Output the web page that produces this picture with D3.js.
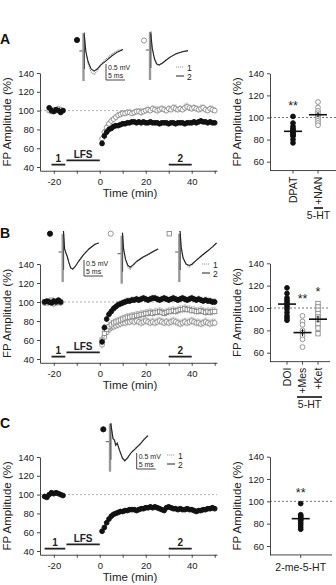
<!DOCTYPE html>
<html lang="en">
<head>
<meta charset="utf-8">
<title>FP amplitude after LFS</title>
<script src="https://cdn.jsdelivr.net/npm/d3@7"></script>
<style>
body { margin: 0; background: #fff; }
svg { font-family: "Liberation Sans", Arial, sans-serif; }
.tick text { font-size: 9.5px; fill: #222; }
.domain, .tick line { stroke: #333; stroke-width: 0.9; }
</style>
</head>
<body>
<svg width="336" height="585"></svg>
<script>
// ---- ticks
var timeTickVals = [-20, -10, 0, 10, 20, 30, 40, 50];
var timeTickLabels = [-20, 0, 20, 40];
var ampTicks = [40, 60, 80, 100, 120, 140];
var ampTicksScatter = [60, 80, 100, 120, 140];

// ---- protocol periods (min)
var periodsAB = [[-21, -15], [-14.5, 0], [30, 40]];
var periodsC = [[-24, -15], [-14.5, 0], [30, 40]];
var periodLabels = ["1", "LFS", "2"];

// ---- time course, % of baseline
var postTimes = d3.range(1, 51);
var baseTimesA = [-22, -21, -20, -19, -18, -17, -16];
var baseTimesB = [-24, -23, -22, -21, -20, -19, -18, -17];
var baseTimesC = [-24, -23, -22, -21, -20, -19, -18, -17, -16];

var baseA_dpat = [103, 100, 99, 101, 100, 98, 100];
var baseA_nan = [100, 99, 101, 100, 102, 101, 100];
var postA_dpat = [65,73,77,80,81,83,84,84,85,86, 86,87,87,88,88,87,88,87,88,87, 87,88,87,87,87,86,87,87,87,86, 87,87,86,87,87,87,86,87,87,87, 88,87,88,89,88,88,87,88,87,87];
var postA_nan = [70,77,82,86,89,91,93,95,96,97, 97,98,98,97,98,99,99,98,99,100, 101,100,102,101,100,101,102,101,100,102, 101,103,102,101,102,101,103,104,103,102, 103,102,101,102,103,101,100,102,101,100];
var semA_dpat = [3,3,2,2,2,2,2,2,2,2, 2,2,2,2,2,2,2,2,2,2, 2,2,2,2,2,2,2,2,2,2, 2,2,2,2,2,2,2,2,2,2, 2,2,2,2,2,2,2,2,2,2];
var semA_nan = [3,3,3,3,3,3,3,3,3,3, 3,3,3,3,3,3,3,4,3,3, 3,3,3,3,4,3,3,3,3,3, 3,3,4,3,3,3,4,4,3,3, 3,3,3,4,3,3,3,3,4,3];

var baseB_doi = [100, 101, 100, 99, 101, 100, 102, 100];
var baseB_mes = [99, 100, 101, 100, 98, 101, 100, 99];
var baseB_ket = [100, 99, 100, 102, 100, 99, 101, 100];
var postB_doi = [58,73,82,87,90,93,95,97,98,99, 100,101,101,102,102,103,102,103,104,103, 102,103,104,104,103,102,103,104,103,102, 103,104,103,102,103,104,103,102,103,104, 103,102,103,102,101,102,101,101,100,100];
var postB_mes = [55,63,68,71,73,74,75,76,77,78, 78,79,79,80,79,80,79,78,79,80, 79,78,79,78,79,80,79,78,79,78, 79,80,79,78,77,78,79,78,79,80, 79,78,78,77,78,79,78,77,78,78];
var postB_ket = [60,67,71,74,76,78,79,80,81,82, 83,84,84,85,85,86,86,87,87,88, 88,89,88,89,89,90,89,88,89,90, 90,91,90,91,92,92,93,92,92,91, 91,90,90,91,90,89,90,89,90,90];
var semB_doi = [3,3,3,3,3,3,3,3,3,3, 3,3,3,3,3,3,3,3,3,3, 3,3,3,3,3,3,3,3,3,3, 3,3,3,3,3,3,3,3,3,3, 3,3,3,3,3,3,3,3,3,3];
var semB_mes = [4,4,4,4,4,4,4,4,4,4, 4,4,4,4,4,4,4,4,4,4, 4,4,4,4,4,4,4,4,4,4, 4,4,4,4,4,4,4,4,4,4, 4,4,4,4,4,4,4,4,4,4];
var semB_ket = [4,4,4,4,4,4,4,4,4,4, 4,4,4,4,4,4,4,4,4,4, 4,4,4,4,4,4,4,4,4,4, 4,4,4,4,4,4,4,4,4,4, 4,4,4,4,4,4,4,4,4,4];

var baseC = [98, 97, 100, 102, 101, 102, 101, 100, 99];
var postC = [61,65,70,74,77,79,80,81,82,82, 83,83,84,84,84,83,84,85,85,86, 86,87,86,87,86,85,84,83,86,87, 86,85,85,84,85,84,84,85,84,84, 83,82,83,83,84,84,85,85,86,85];
var semC = [2,2,2,2,2,2,2,2,2,2, 2,2,2,2,2,2,2,2,2,2, 2,2,2,2,2,2,2,2,2,2, 2,2,2,2,2,2,2,2,2,2, 2,2,2,2,2,2,2,2,2,2];

// ---- individual slices, % of baseline at 30-40 min
var catsA = ["DPAT", "+NAN"];
var ptsA_dpat = [101, 95, 92, 90, 89, 88, 87, 86, 85, 84, 83, 80, 77];
var ptsA_nan = [114, 109, 106, 104, 102, 101, 99, 97, 95, 93];
var meanA = [87.5, 102.5];
var semScatA = [2, 2.2];
var starsA = ["**", ""];

var catsB = ["DOI", "+Mes", "+Ket"];
var ptsB_doi = [118, 113, 109, 107, 105, 103, 101, 99, 96, 93, 91, 89];
var ptsB_mes = [93, 88, 85, 80, 78, 75, 72, 65];
var ptsB_ket = [104, 101, 98, 95, 92, 90, 86, 82, 77];
var meanB = [103.5, 78, 90];
var semScatB = [2.5, 3, 3];
var starsB = ["", "**", "*"];

var catsC = ["2-me-5-HT"];
var ptsC = [98, 88, 87, 86, 85, 84, 83, 81, 79, 77, 75];
var meanC = [84.5];
var semScatC = [2];
var starsC = ["**"];

// ---- example field potentials [ms, mV]
var trA1_1 = [[0.2,0.55],[0.6,0.0],[1.2,-0.42],[2.0,-0.7],[2.8,-0.78],[3.6,-0.66],[4.6,-0.44],[6,-0.26],[7.5,-0.1],[9,0.02],[10.4,0.06]];
var trA1_2 = [[0.2,0.55],[0.6,0.0],[1.2,-0.35],[2.0,-0.6],[2.8,-0.67],[3.6,-0.6],[4.6,-0.46],[6,-0.32],[7.5,-0.16],[9,-0.03],[10.4,0.05]];
var trA2_1 = [[0.2,0.55],[0.6,0.05],[1.2,-0.32],[1.8,-0.49],[2.4,-0.51],[3.2,-0.44],[4.2,-0.33],[5.5,-0.22],[7,-0.13],[8.5,-0.06],[10,-0.02]];
var trA2_2 = [[0.2,0.55],[0.6,0.05],[1.2,-0.3],[1.8,-0.47],[2.4,-0.5],[3.2,-0.44],[4.2,-0.34],[5.5,-0.22],[7,-0.12],[8.5,-0.06],[10,-0.02]];
var trB1_1 = [[0.2,0.7],[0.5,0.1],[0.9,-0.05],[1.2,-0.15],[1.6,-0.35],[2.1,-0.54],[2.6,-0.58],[3.2,-0.5],[4.2,-0.3],[5.5,-0.08],[7,0.12],[8.5,0.26],[9.5,0.3]];
var trB1_2 = [[0.2,0.7],[0.5,0.1],[0.9,-0.05],[1.2,-0.15],[1.6,-0.34],[2.1,-0.52],[2.6,-0.57],[3.2,-0.5],[4.2,-0.31],[5.5,-0.09],[7,0.11],[8.5,0.26],[9.5,0.3]];
var trB2_1 = [[0.2,0.7],[0.5,0.15],[1.0,-0.2],[1.6,-0.44],[2.2,-0.52],[2.9,-0.42],[4,-0.27],[5.5,-0.14],[7,-0.04],[8.5,0.08],[9.6,0.16]];
var trB2_2 = [[0.2,0.7],[0.5,0.15],[1.0,-0.18],[1.6,-0.38],[2.2,-0.45],[2.9,-0.38],[4,-0.25],[5.5,-0.12],[7,-0.02],[8.5,0.09],[9.6,0.16]];
var trB3_1 = [[0.2,0.7],[0.5,0.15],[1.0,-0.2],[1.8,-0.42],[2.6,-0.5],[3.4,-0.42],[4.5,-0.28],[6,-0.12],[7.5,0.03],[8.8,0.18],[9.8,0.3]];
var trB3_2 = [[0.2,0.7],[0.5,0.15],[1.0,-0.2],[1.8,-0.4],[2.6,-0.45],[3.4,-0.4],[4.5,-0.27],[6,-0.11],[7.5,0.04],[8.8,0.18],[9.8,0.3]];
var trC_1 = [[0.2,0.6],[0.8,0.1],[1.2,0.05],[1.5,-0.12],[1.9,-0.05],[2.5,-0.3],[3.3,-0.58],[3.9,-0.66],[4.6,-0.55],[5.6,-0.35],[6.8,-0.2],[8,-0.05],[9,0.1],[10,0.22]];
var trC_2 = [[0.2,0.6],[0.8,0.1],[1.2,0.05],[1.5,-0.12],[1.9,-0.05],[2.5,-0.28],[3.3,-0.55],[3.9,-0.63],[4.6,-0.54],[5.6,-0.36],[6.8,-0.22],[8,-0.07],[9,0.08],[10,0.2]];

var svg = d3.select("svg");
var grey = "#8a8a8a";

function marker(g, kind, cx, cy, r) {
  if (kind === "square") {
    g.append("rect").attr("x", cx - r).attr("y", cy - r).attr("width", 2 * r).attr("height", 2 * r)
      .attr("fill", "#fff").attr("stroke", grey).attr("stroke-width", 0.9);
  } else {
    g.append("circle").attr("cx", cx).attr("cy", cy).attr("r", r)
      .attr("fill", kind === "filled" ? "#111" : "#fff")
      .attr("stroke", kind === "filled" ? "#111" : grey).attr("stroke-width", 0.9);
  }
}

function drawTime(p) {
  var g = svg.append("g");
  var k = (p.y40 - p.y140) / 100;
  var x = d3.scaleLinear().domain([-26, 51]).range([40, 217]);
  var y = d3.scaleLinear().domain([36, 140]).range([p.y40 + 4 * k, p.y140]);

  g.append("line").attr("x1", x(-26)).attr("x2", x(51)).attr("y1", y(100)).attr("y2", y(100))
    .attr("stroke", "#999").attr("stroke-width", 0.8).attr("stroke-dasharray", "2,2");

  g.append("g").attr("transform", "translate(" + x(-26) + ",0)")
    .call(d3.axisLeft(y).tickValues(ampTicks).tickSize(3).tickSizeOuter(0).tickFormat(String));
  var xAx = g.append("g").attr("transform", "translate(0," + y(36) + ")")
    .call(d3.axisBottom(x).tickValues(timeTickVals).tickSize(3).tickSizeOuter(0)
      .tickFormat(function(d) { return timeTickLabels.indexOf(d) >= 0 ? String(d) : ""; }));
  xAx.selectAll(".tick text").attr("dy", "0.85em");

  g.append("text").attr("x", 130).attr("y", y(36) + 26).attr("text-anchor", "middle")
    .attr("font-size", 11.5).attr("fill", "#222").text("Time (min)");
  g.append("text").attr("transform", "translate(11," + ((y(36) + p.y140) / 2) + ") rotate(-90)")
    .attr("text-anchor", "middle").attr("font-size", 11.5).attr("fill", "#222").text("FP Amplitude (%)");

  // protocol bars
  p.periods.forEach(function(per, i) {
    var lv = i === 1 ? 47 : 42.5;
    g.append("line").attr("x1", x(per[0])).attr("x2", x(per[1])).attr("y1", y(lv)).attr("y2", y(lv))
      .attr("stroke", "#222").attr("stroke-width", 1.8);
    g.append("text").attr("x", (x(per[0]) + x(per[1])) / 2).attr("y", y(lv) - 2.5)
      .attr("text-anchor", "middle").attr("font-size", 10).attr("font-weight", "bold").attr("fill", "#222")
      .text(periodLabels[i]);
  });

  p.series.forEach(function(s) {
    var times = s.baseTimes.concat(postTimes);
    var vals = s.base.concat(s.post);
    var sems = s.base.map(function() { return 1.5; }).concat(s.sem);
    var col = s.kind === "filled" ? "#555" : "#aaa";
    var sg = g.append("g");
    times.forEach(function(t, i) {
      sg.append("line").attr("x1", x(t)).attr("x2", x(t))
        .attr("y1", y(vals[i] - sems[i])).attr("y2", y(vals[i] + sems[i]))
        .attr("stroke", col).attr("stroke-width", 0.7);
      sg.append("line").attr("x1", x(t) - 1.2).attr("x2", x(t) + 1.2)
        .attr("y1", y(vals[i] + sems[i])).attr("y2", y(vals[i] + sems[i]))
        .attr("stroke", col).attr("stroke-width", 0.7);
    });
    times.forEach(function(t, i) {
      marker(sg, s.kind, x(t), y(vals[i]), s.kind === "square" ? 2.1 : 2.4);
    });
  });
}

function drawScatter(p) {
  var g = svg.append("g");
  var k = (p.y60 - p.y140) / 80;
  var y = d3.scaleLinear().domain([52, 140]).range([p.y60 + 8 * k, p.y140]);
  var x = d3.scalePoint().domain(p.cats).range(p.xr);
  var x0 = 270;

  g.append("line").attr("x1", x0).attr("x2", p.xEnd).attr("y1", y(100)).attr("y2", y(100))
    .attr("stroke", "#666").attr("stroke-width", 0.9).attr("stroke-dasharray", "2,2");
  g.append("g").attr("transform", "translate(" + x0 + ",0)")
    .call(d3.axisLeft(y).tickValues(ampTicksScatter).tickSize(3).tickSizeOuter(0).tickFormat(String));
  g.append("line").attr("x1", x0).attr("x2", p.xEnd).attr("y1", y(52)).attr("y2", y(52))
    .attr("stroke", "#333").attr("stroke-width", 0.9);
  p.cats.forEach(function(c) {
    g.append("line").attr("x1", x(c)).attr("x2", x(c)).attr("y1", y(52)).attr("y2", y(52) + 3)
      .attr("stroke", "#333").attr("stroke-width", 0.9);
  });
  g.append("text").attr("transform", "translate(241," + ((y(52) + p.y140) / 2) + ") rotate(-90)")
    .attr("text-anchor", "middle").attr("font-size", 11.5).attr("fill", "#222").text("FP Amplitude (%)");

  p.groups.forEach(function(grp, i) {
    var cx = x(p.cats[i]);
    grp.pts.forEach(function(v) { marker(g, grp.kind, cx, y(v), grp.kind === "square" ? 2.2 : 2.4); });
    g.append("line").attr("x1", cx - 9).attr("x2", cx + 9).attr("y1", y(p.mean[i])).attr("y2", y(p.mean[i]))
      .attr("stroke", "#111").attr("stroke-width", 1.6);
    g.append("line").attr("x1", cx).attr("x2", cx).attr("y1", y(p.mean[i] - p.sem[i])).attr("y2", y(p.mean[i] + p.sem[i]))
      .attr("stroke", "#111").attr("stroke-width", 1.1);
    if (p.stars[i]) {
      g.append("text").attr("x", cx).attr("y", y(p.starLevel[i]) + 5.5).attr("text-anchor", "middle")
        .attr("font-size", 12.5).attr("fill", "#222").text(p.stars[i]);
    }
    if (p.rotated) {
      g.append("text").attr("transform", "translate(" + (cx + 3.8) + "," + (y(52) + 6) + ") rotate(-90)")
        .attr("text-anchor", "end").attr("font-size", 10.5).attr("fill", "#222").text(p.cats[i]);
    } else {
      g.append("text").attr("x", cx).attr("y", y(52) + 16).attr("text-anchor", "middle")
        .attr("font-size", 10.5).attr("fill", "#222").text(p.cats[i]);
    }
  });
  if (p.drug) {
    g.append("line").attr("x1", p.drug.x1).attr("x2", p.drug.x2).attr("y1", p.drug.y).attr("y2", p.drug.y)
      .attr("stroke", "#111").attr("stroke-width", 1.6);
    g.append("text").attr("x", (p.drug.x1 + p.drug.x2) / 2).attr("y", p.drug.y + 11).attr("text-anchor", "middle")
      .attr("font-size", 10.5).attr("fill", "#222").text("5-HT");
  }
}

function drawTrace(o) {
  var g = svg.append("g");
  var xt = d3.scaleLinear().domain([0, 5]).range([o.x0, o.x0 + 19]);
  var yt = d3.scaleLinear().domain([0, 0.5]).range([o.y0, o.y0 - 15]);
  var line = d3.line().x(function(d) { return xt(d[0]); }).y(function(d) { return yt(d[1]); });
  marker(g, o.kind, o.mx, o.my, o.kind === "square" ? 2.2 : 2.6);
  g.append("line").attr("x1", xt(-1.1)).attr("x2", xt(0)).attr("y1", yt(0)).attr("y2", yt(0))
    .attr("stroke", "#444").attr("stroke-width", 0.9);
  g.append("line").attr("x1", xt(0)).attr("x2", xt(0)).attr("y1", yt(0.6)).attr("y2", yt(-1.0))
    .attr("stroke", "#999").attr("stroke-width", 2.4);
  g.append("line").attr("x1", xt(0.25)).attr("x2", xt(0.25)).attr("y1", yt(0.62)).attr("y2", yt(-0.6))
    .attr("stroke", "#333").attr("stroke-width", 0.8);
  g.append("path").attr("d", line(o.t1)).attr("fill", "none").attr("stroke", "#999")
    .attr("stroke-width", 1.2).attr("stroke-dasharray", "1.2,0.8");
  g.append("path").attr("d", line(o.t2)).attr("fill", "none").attr("stroke", "#222").attr("stroke-width", 1.1);
}

function scaleBar(x, y) {
  var g = svg.append("g");
  g.append("path").attr("d", "M" + x + "," + (y - 16) + "V" + y + "H" + (x + 19))
    .attr("fill", "none").attr("stroke", "#333").attr("stroke-width", 0.9);
  g.append("text").attr("x", x + 2).attr("y", y - 10).attr("font-size", 7).attr("fill", "#222").text("0.5 mV");
  g.append("text").attr("x", x + 2).attr("y", y - 2).attr("font-size", 7).attr("fill", "#222").text("5 ms");
}

function traceLegend(x, y) {
  var g = svg.append("g");
  g.append("line").attr("x1", x).attr("x2", x + 8).attr("y1", y).attr("y2", y)
    .attr("stroke", "#999").attr("stroke-width", 1.1).attr("stroke-dasharray", "1.2,0.8");
  g.append("line").attr("x1", x).attr("x2", x + 8).attr("y1", y + 9).attr("y2", y + 9)
    .attr("stroke", "#222").attr("stroke-width", 1);
  g.append("text").attr("x", x + 11).attr("y", y + 3.5).attr("font-size", 8.5).attr("fill", "#222").text("1");
  g.append("text").attr("x", x + 11).attr("y", y + 12.5).attr("font-size", 8.5).attr("fill", "#222").text("2");
}

function panelLetter(l, y) {
  svg.append("text").attr("x", 0).attr("y", y).attr("font-size", 14).attr("font-weight", "bold")
    .attr("fill", "#111").text(l);
}

// ---- panel A
panelLetter("A", 44);
drawTrace({ x0: 83.5, y0: 51, mx: 77, my: 40, kind: "filled", t1: trA1_1, t2: trA1_2 });
drawTrace({ x0: 150, y0: 50, mx: 144, my: 40.5, kind: "circle", t1: trA2_1, t2: trA2_2 });
scaleBar(106, 80);
traceLegend(176, 67);
drawTime({ y140: 73, y40: 167, periods: periodsAB, series: [
  { kind: "circle", baseTimes: baseTimesA, base: baseA_nan, post: postA_nan, sem: semA_nan },
  { kind: "filled", baseTimes: baseTimesA, base: baseA_dpat, post: postA_dpat, sem: semA_dpat }
]});
drawScatter({ y140: 73.3, y60: 161.7, cats: catsA, xr: [293, 318], xEnd: 336, rotated: true,
  groups: [{ kind: "filled", pts: ptsA_dpat }, { kind: "circle", pts: ptsA_nan }],
  mean: meanA, sem: semScatA, stars: starsA, starLevel: [112, 0],
  drug: { x1: 314, x2: 323, y: 208 } });

// ---- panel B
panelLetter("B", 238);
drawTrace({ x0: 62.7, y0: 252, mx: 50, my: 233.7, kind: "filled", t1: trB1_1, t2: trB1_2 });
drawTrace({ x0: 121.7, y0: 253.7, mx: 110.7, my: 233.7, kind: "circle", t1: trB2_1, t2: trB2_2 });
drawTrace({ x0: 179.3, y0: 252, mx: 169.3, my: 233.7, kind: "square", t1: trB3_1, t2: trB3_2 });
scaleBar(84, 276);
traceLegend(202, 264);
drawTime({ y140: 264, y40: 359, periods: periodsAB, series: [
  { kind: "circle", baseTimes: baseTimesB, base: baseB_mes, post: postB_mes, sem: semB_mes },
  { kind: "square", baseTimes: baseTimesB, base: baseB_ket, post: postB_ket, sem: semB_ket },
  { kind: "filled", baseTimes: baseTimesB, base: baseB_doi, post: postB_doi, sem: semB_doi }
]});
drawScatter({ y140: 263.3, y60: 352.7, cats: catsB, xr: [287, 318], xEnd: 330, rotated: true,
  groups: [{ kind: "filled", pts: ptsB_doi }, { kind: "circle", pts: ptsB_mes }, { kind: "square", pts: ptsB_ket }],
  mean: meanB, sem: semScatB, stars: starsB, starLevel: [0, 109, 116],
  drug: { x1: 297, x2: 322, y: 397 } });

// ---- panel C
panelLetter("C", 428);
drawTrace({ x0: 110, y0: 441.7, mx: 103.3, my: 429.3, kind: "filled", t1: trC_1, t2: trC_2 });
scaleBar(136.7, 469);
traceLegend(167, 455);
drawTime({ y140: 457, y40: 551, periods: periodsC, series: [
  { kind: "filled", baseTimes: baseTimesC, base: baseC, post: postC, sem: semC }
]});
drawScatter({ y140: 456.7, y60: 546, cats: catsC, xr: [300.7, 300.7], xEnd: 332, rotated: false,
  groups: [{ kind: "filled", pts: ptsC }],
  mean: meanC, sem: semScatC, stars: starsC, starLevel: [109] });
</script>
</body>
</html>
